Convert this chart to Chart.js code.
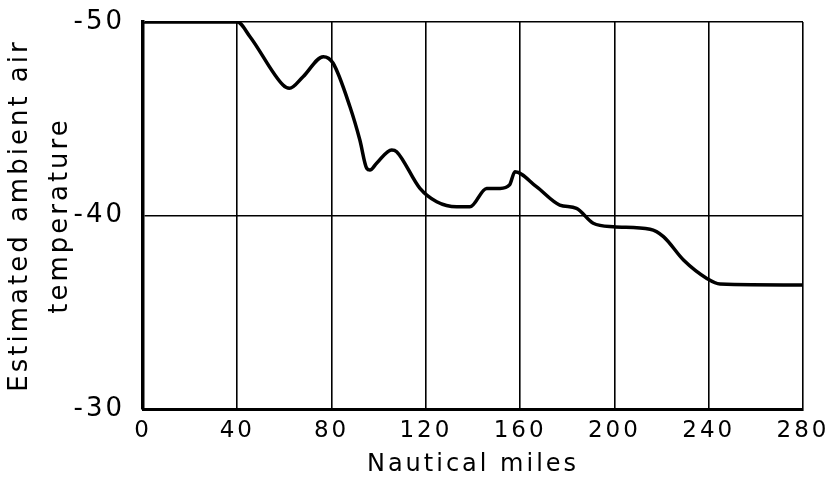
<!DOCTYPE html>
<html>
<head>
<meta charset="utf-8">
<script src="https://cdn.jsdelivr.net/npm/chart.js@4/dist/chart.umd.min.js"></script>
<style>
html,body{margin:0;padding:0;background:#fff;}
#wrap{width:833px;height:480px;position:relative;}
</style>
</head>
<body>
<div id="wrap"><canvas id="c" width="833" height="480"></canvas></div>
<script>
const miles = [0, 40, 45.4, 59.4, 62.1, 67.9, 76.5, 80.6, 87.8, 92, 94.9, 96.3, 99.1, 105.5, 107.6, 117.5, 124.6, 133.1, 138.7, 145.8, 151.5, 155.5, 157.8, 166.9, 176.8, 183.9, 191, 199.5, 215.1, 220.8, 229.3, 239.2, 244.8, 280];
const temps = [-50, -50, -49.24, -46.74, -46.57, -47.17, -48.21, -47.88, -45.62, -43.9, -42.44, -42.35, -42.7, -43.39, -43.3, -41.4, -40.71, -40.45, -40.45, -41.4, -41.4, -41.58, -42.26, -41.49, -40.54, -40.37, -39.6, -39.42, -39.29, -38.91, -37.7, -36.75, -36.46, -36.41];
const xTicks = [0, 40, 80, 120, 160, 200, 240, 280];
const yTicks = [-50, -40, -30];
const xTitle = 'Nautical miles';
const yTitle = ['Estimated ambient air', 'temperature'];

const points = miles.map((m, i) => ({x: m, y: temps[i]}));
const FONT = 'DejaVu Sans';

const spacing = {
  id: 'spacing',
  beforeUpdate(chart) { chart.ctx.letterSpacing = '3px'; },
  beforeDraw(chart) { chart.ctx.letterSpacing = '3px'; }
};

new Chart(document.getElementById('c'), {
  type: 'line',
  data: {
    datasets: [{
      data: points,
      borderColor: '#000',
      borderWidth: 3.5,
      pointRadius: 0,
      fill: false,
      cubicInterpolationMode: 'monotone'
    }]
  },
  plugins: [spacing],
  options: {
    responsive: false,
    animation: false,
    devicePixelRatio: 1,
    layout: {padding: {left: 0, top: 22, right: 30, bottom: 0}},
    plugins: {legend: {display: false}, tooltip: {enabled: false}},
    scales: {
      x: {
        type: 'linear',
        min: 0, max: 280,
        afterBuildTicks(s) { s.ticks = xTicks.map(v => ({value: v})); },
        afterFit(s) { s.height = 71; s.paddingLeft = 0; s.paddingRight = 0; },
        grid: {color: '#000', lineWidth: 1.6, drawTicks: false},
        border: {color: '#000', width: 3},
        ticks: {color: '#000', padding: 8, font: {family: FONT, size: 23}, maxRotation: 0},
        title: {display: true, text: xTitle, color: '#000', padding: {top: 0, bottom: 1}, font: {family: FONT, size: 24, lineHeight: 1.2}}
      },
      y: {
        type: 'linear',
        reverse: true,
        min: -50, max: -30,
        afterBuildTicks(s) { s.ticks = yTicks.map(v => ({value: v})); },
        afterFit(s) { s.width = 143; s.paddingTop = 0; s.paddingBottom = 0; },
        grid: {color: '#000', lineWidth: 1.6, drawTicks: false},
        border: {color: '#000', width: 3.5},
        ticks: {color: '#000', padding: 18, font: {family: FONT, size: 26}},
        title: {display: true, text: yTitle, color: '#000', padding: {top: 0, bottom: 0}, font: {family: FONT, size: 26, lineHeight: 1.55}}
      }
    }
  }
});
</script>
</body>
</html>
